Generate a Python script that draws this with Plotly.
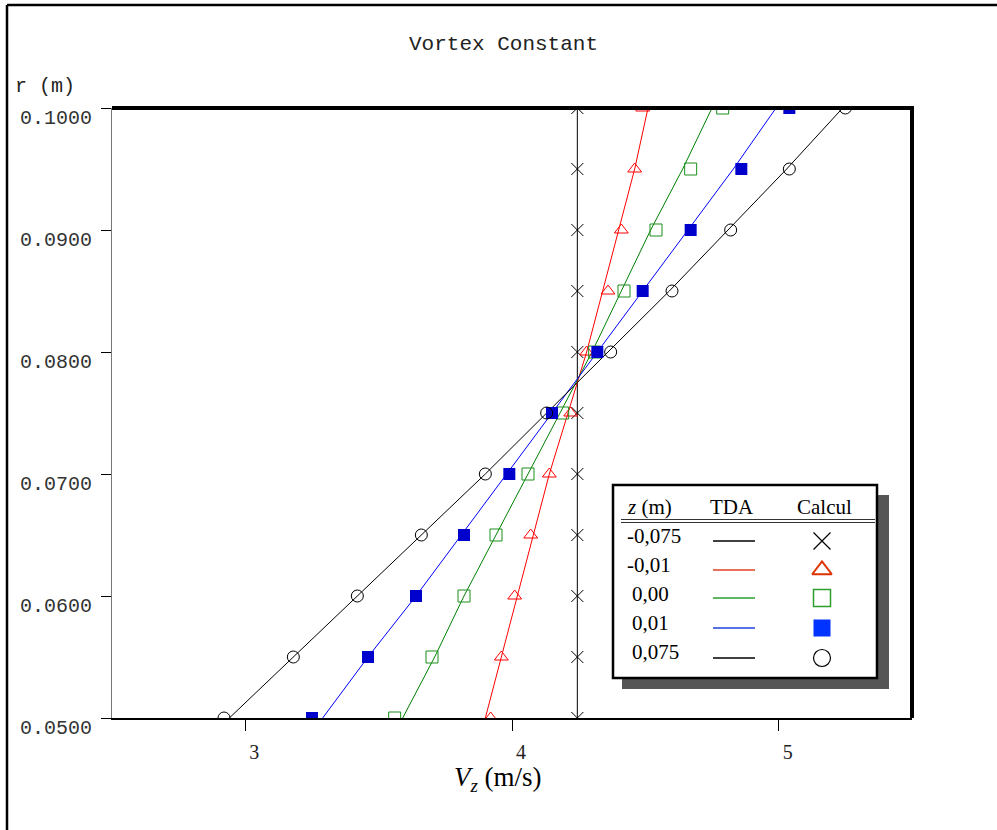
import plotly.graph_objects as go

# ---------------- data ----------------
r_m = [0.050, 0.055, 0.060, 0.065, 0.070, 0.075, 0.080, 0.085, 0.090, 0.095, 0.100]

z_labels = ["-0,075", "-0,01", " 0,00", " 0,01", " 0,075"]

# TDA (lines)
tda_m0075 = [4.245, 4.245, 4.245, 4.245, 4.245, 4.245, 4.245, 4.245, 4.245, 4.245, 4.245]
tda_m001 = [3.90, 3.96, 4.02, 4.08, 4.14, 4.21, 4.28, 4.34, 4.40, 4.46, 4.51]
tda_000 = [3.59, 3.71, 3.82, 3.94, 4.06, 4.18, 4.30, 4.41, 4.52, 4.64, 4.75]
tda_001 = [3.29, 3.46, 3.64, 3.81, 3.98, 4.15, 4.32, 4.49, 4.66, 4.83, 4.99]
tda_0075 = [2.94, 3.18, 3.42, 3.66, 3.90, 4.13, 4.36, 4.59, 4.81, 5.03, 5.24]

# Calcul (markers)
calc_m0075 = [4.245, 4.245, 4.245, 4.245, 4.245, 4.245, 4.245, 4.245, 4.245, 4.245, 4.245]
calc_m001 = [3.92, 3.96, 4.01, 4.07, 4.14, 4.22, 4.28, 4.36, 4.41, 4.46, 4.49]
calc_000 = [3.56, 3.70, 3.82, 3.94, 4.06, 4.19, 4.31, 4.42, 4.54, 4.67, 4.79]
calc_001 = [3.25, 3.46, 3.64, 3.82, 3.99, 4.15, 4.32, 4.49, 4.67, 4.86, 5.04]
calc_0075 = [2.92, 3.18, 3.42, 3.66, 3.90, 4.13, 4.37, 4.60, 4.82, 5.04, 5.25]

x_ticks = [3, 4, 5]
y_ticks = [0.05, 0.06, 0.07, 0.08, 0.09, 0.10]

# ---------------- styles ----------------
line_colors = ["#000000", "#ff0000", "#008000", "#0000ff", "#000000"]
marker_styles = [
    dict(symbol="x-thin-open", size=12, color="#000000", line=dict(width=1, color="#000000")),
    dict(symbol="triangle-up-open", size=12, color="#ff0000", line=dict(width=1, color="#ff0000")),
    dict(symbol="square-open", size=12, color="#1a8f1a", line=dict(width=1, color="#1a8f1a")),
    dict(symbol="square", size=12, color="#0000cc", line=dict(width=0)),
    dict(symbol="circle-open", size=12, color="#000000", line=dict(width=1, color="#000000")),
]
legend_line_colors = ["#000000", "#e04020", "#2e9e2e", "#2040e0", "#000000"]
legend_marker_styles = [
    dict(symbol="x-thin-open", size=17, color="#000000", line=dict(width=1.2, color="#000000")),
    dict(symbol="triangle-up-open", size=17, color="#dd3300", line=dict(width=2, color="#dd3300")),
    dict(symbol="square-open", size=17, color="#2e9e2e", line=dict(width=1.5, color="#2e9e2e")),
    dict(symbol="square", size=17, color="#0033ff", line=dict(width=0)),
    dict(symbol="circle-open", size=17, color="#000000", line=dict(width=1.2, color="#000000")),
]

tda = [tda_m0075, tda_m001, tda_000, tda_001, tda_0075]
calc = [calc_m0075, calc_m001, calc_000, calc_001, calc_0075]

W, H = 997, 830
L, R, T, B = 112, 85, 108, 112
PW, PH = W - L - R, H - T - B


def px(x):
    return (x - L) / PW


def py(y):
    return (H - B - y) / PH


fig = go.Figure()

for vals, col in zip(tda, line_colors):
    fig.add_trace(go.Scatter(x=vals, y=r_m, mode="lines",
                             line=dict(color=col, width=1), showlegend=False,
                             hoverinfo="skip"))
for vals, ms in zip(calc, marker_styles):
    fig.add_trace(go.Scatter(x=vals, y=r_m, mode="markers",
                             marker=ms, showlegend=False))

# ---------------- custom legend (pixel overlay axes) ----------------
leg_row_y = [541, 570, 598, 628, 658]
leg_text_y = [536, 565, 594, 623, 652]
leg_text_x = [625, 625, 630, 630, 630]

shapes = []
annotations = []

shapes.append(dict(type="rect", xref="paper", yref="paper",
                   x0=px(622), x1=px(889), y0=py(495), y1=py(689),
                   fillcolor="#555555", line=dict(width=0), layer="below"))
shapes.append(dict(type="rect", xref="paper", yref="paper",
                   x0=px(613), x1=px(877), y0=py(485), y1=py(678),
                   fillcolor="white", line=dict(color="black", width=2.5), layer="below"))
for yy in (519.5, 522.5):
    shapes.append(dict(type="line", xref="paper", yref="paper",
                       x0=px(621), x1=px(875), y0=py(yy), y1=py(yy),
                       line=dict(color="#333333", width=1), layer="below"))
for yy, col in zip(leg_row_y, legend_line_colors):
    fig.add_trace(go.Scatter(x=[713, 755], y=[yy, yy], mode="lines",
                             line=dict(color=col, width=1.5),
                             xaxis="x2", yaxis="y2", showlegend=False,
                             hoverinfo="skip", cliponaxis=False))
for yy, ms in zip(leg_row_y, legend_marker_styles):
    fig.add_trace(go.Scatter(x=[822], y=[yy], mode="markers", marker=ms,
                             xaxis="x2", yaxis="y2", showlegend=False,
                             hoverinfo="skip", cliponaxis=False))

serif = "Liberation Serif, Times New Roman, serif"
mono = "Liberation Mono, Courier New, monospace"

annotations.append(dict(text="<i>z</i> (m)", x=px(625), y=py(507), xref="paper", yref="paper",
                        xanchor="left", yanchor="middle", showarrow=False,
                        font=dict(family=serif, size=21, color="black")))
annotations.append(dict(text="TDA", x=px(732), y=py(507), xref="paper", yref="paper",
                        xanchor="center", yanchor="middle", showarrow=False,
                        font=dict(family=serif, size=21, color="black")))
annotations.append(dict(text="Calcul", x=px(824), y=py(507), xref="paper", yref="paper",
                        xanchor="center", yanchor="middle", showarrow=False,
                        font=dict(family=serif, size=21, color="black")))
for lab, xx, yy in zip(z_labels, leg_text_x, leg_text_y):
    annotations.append(dict(text=lab.strip(), x=px(xx), y=py(yy), xref="paper", yref="paper",
                            xanchor="left", yanchor="middle", showarrow=False,
                            font=dict(family=serif, size=21, color="black")))

# titles
annotations.append(dict(text="Vortex Constant", x=px(503), y=py(45), xref="paper", yref="paper",
                        xanchor="center", yanchor="middle", showarrow=False,
                        font=dict(family=mono, size=21, color="#222222")))
annotations.append(dict(text="r (m)", x=px(13), y=py(87), xref="paper", yref="paper",
                        xanchor="left", yanchor="middle", showarrow=False,
                        font=dict(family=mono, size=20, color="#222222")))
annotations.append(dict(text="<i>V</i><sub><i>z</i></sub> (m/s)", x=px(498), y=py(779),
                        xref="paper", yref="paper", xanchor="center", yanchor="middle",
                        showarrow=False, font=dict(family=serif, size=27, color="black")))

# frame: thick top & right
shapes.append(dict(type="line", xref="paper", yref="paper", x0=0, x1=1.0025, y0=1, y1=1,
                   line=dict(color="black", width=4), layer="above"))
shapes.append(dict(type="line", xref="paper", yref="paper", x0=1, x1=1, y0=0, y1=1,
                   line=dict(color="black", width=4), layer="above"))
# outer figure border (top & left)
shapes.append(dict(type="line", xref="paper", yref="paper", x0=px(7), x1=px(997), y0=py(5), y1=py(5),
                   line=dict(color="black", width=2.5)))
shapes.append(dict(type="line", xref="paper", yref="paper", x0=px(7), x1=px(7), y0=py(5), y1=py(830),
                   line=dict(color="black", width=2.5)))

fig.update_layout(
    width=W, height=H,
    margin=dict(l=L, r=R, t=T, b=B),
    paper_bgcolor="white", plot_bgcolor="white",
    showlegend=False,
    shapes=shapes, annotations=annotations,
    xaxis=dict(range=[2.5, 5.5], tickvals=x_ticks, ticks="outside", ticklen=11,
               tickcolor="black", tickwidth=1, showline=True, linecolor="black",
               linewidth=1.5, showgrid=False, zeroline=False,
               tickfont=dict(family=serif, size=20, color="#222222"),
               ticklabelshift=9, ticklabelstandoff=4),
    yaxis=dict(range=[0.05, 0.10], tickvals=y_ticks, tickformat=".4f", ticks="outside",
               ticklen=10, tickcolor="black", tickwidth=1, showline=True,
               linecolor="#777777", linewidth=1.2, showgrid=False, zeroline=False,
               tickfont=dict(family=mono, size=20, color="#333333"),
               ticklabelshift=9, ticklabelstandoff=5),
    xaxis2=dict(range=[L, L + PW], overlaying="x", visible=False, domain=[0, 1]),
    yaxis2=dict(range=[H - B, T], overlaying="y", visible=False, domain=[0, 1]),
)

fig.write_html("out.html", config={"displayModeBar": False},
               post_script="document.body.style.margin='0px';")
